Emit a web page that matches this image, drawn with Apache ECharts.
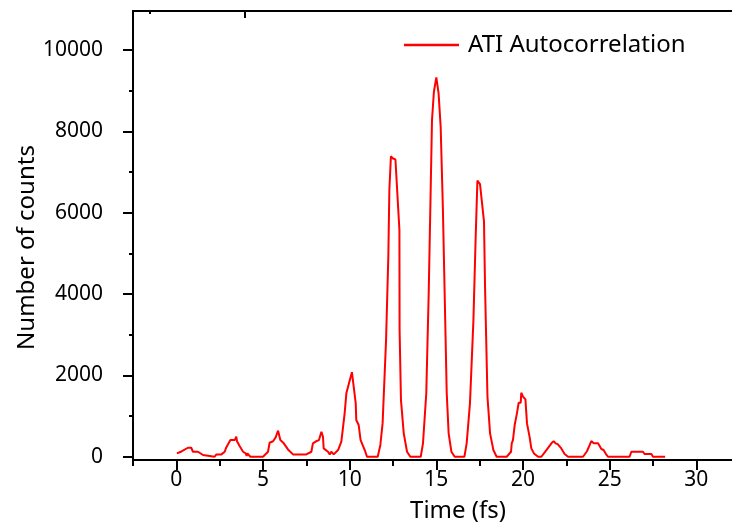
<!DOCTYPE html>
<html>
<head>
<meta charset="utf-8">
<script src="https://cdn.jsdelivr.net/npm/echarts@6/dist/echarts.min.js"></script>
<style>html,body{margin:0;padding:0;background:#fff}#c{width:732px;height:531px}</style>
</head>
<body>
<div id="c"></div>
<script>
var timeFs = [0.03,0.3,0.67,0.86,0.96,1.06,1.25,1.54,1.63,2.21,2.31,2.6,2.79,2.88,3.12,3.37,3.46,3.5,3.65,3.85,4.0,4.06,4.1,4.27,5.0,5.29,5.38,5.58,5.73,5.87,6.0,6.2,6.44,6.73,7.5,7.79,7.88,8.06,8.23,8.37,8.46,8.5,8.75,8.85,8.94,9.08,9.33,9.52,9.71,9.81,9.96,10.13,10.35,10.38,10.52,10.63,10.87,11.0,11.62,11.77,11.9,12.1,12.23,12.29,12.38,12.47,12.64,12.87,12.88,12.96,13.12,13.31,13.5,14.1,14.23,14.42,14.56,14.67,14.75,14.86,15.0,15.13,15.25,15.38,15.52,15.6,15.71,15.87,16.06,16.62,16.75,16.94,17.14,17.27,17.37,17.52,17.75,17.81,17.95,18.1,18.29,18.48,19.06,19.31,19.35,19.42,19.52,19.65,19.75,19.87,19.9,20.0,20.14,20.23,20.38,20.48,20.63,20.87,21.06,21.35,21.64,21.77,21.88,22.0,22.21,22.4,22.6,23.46,23.69,23.85,23.94,24.08,24.33,24.52,24.65,24.81,24.9,26.15,26.25,26.92,27.02,27.41,27.5,28.2];
var counts = [84,130,221,221,123,160,123,42,0,0,58,58,123,230,410,410,492,380,263,123,84,20,84,0,0,123,345,380,477,640,410,330,180,58,58,123,330,380,410,615,492,205,123,58,123,58,165,370,1067,1560,1805,2080,1313,902,780,410,165,0,0,290,820,2870,4920,6560,7390,7340,7310,5575,3115,1394,575,123,0,0,330,1560,4020,6480,8280,8975,9330,8935,8115,6065,3200,1560,575,123,0,0,330,1313,3360,5410,6790,6705,5780,4180,1475,575,165,0,0,123,330,410,780,1067,1328,1328,1575,1480,1410,820,490,205,82,0,0,165,330,385,330,310,205,66,0,0,135,290,385,330,330,190,165,50,0,0,123,123,66,66,0,0];
var xMajorTicks = [0,5,10,15,20,25,30];
var xMinorTicks = [-2.5,2.5,7.5,12.5,17.5,22.5,27.5,32.5];
var yMajorTicks = [0,2000,4000,6000,8000,10000];
var yMinorTicks = [1000,3000,5000,7000,9000];
var seriesName = 'ATI Autocorrelation';

var FONT = 'Noto Sans';
var black = '#000';
var chart = echarts.init(document.getElementById('c'), null, {renderer: 'canvas'});
var data = timeFs.map(function (t, i) { return [t, counts[i]]; });
function plain(v) { return String(v); }
function baseX(extra) {
  return Object.assign({
    type: 'value', min: -2.5, max: 35, gridIndex: 0,
    splitLine: {show: false},
    axisLine: {show: false, onZero: false, lineStyle: {color: black, width: 2}},
    axisTick: {show: false},
    axisLabel: {show: false}
  }, extra);
}
function baseY(extra) {
  return Object.assign({
    type: 'value', min: -80, max: 10960, gridIndex: 0,
    splitLine: {show: false},
    axisLine: {show: false, onZero: false, lineStyle: {color: black, width: 2}},
    axisTick: {show: false},
    axisLabel: {show: false}
  }, extra);
}
chart.setOption({
  animation: false,
  backgroundColor: '#fff',
  grid: {left: 133, top: 11, width: 650, height: 449, containLabel: false, outerBoundsMode: 'none'},
  legend: {
    data: [seriesName], left: 399, top: 28, itemWidth: 55, itemHeight: 14,
    icon: 'path://M0,6 L55,6 L55,8.5 L0,8.5 Z',
    itemStyle: {color: '#ff0000'},
    textStyle: {fontFamily: FONT, fontSize: 24, color: black, padding: [0, 0, 0, 4]}
  },
  xAxis: [
    baseX({
      position: 'bottom',
      name: 'Time (fs)', nameLocation: 'middle', nameGap: 39, nameMoveOverlap: false,
      nameTextStyle: {fontFamily: FONT, fontSize: 24, color: black},
      axisLine: {show: true, onZero: false, lineStyle: {color: black, width: 2}},
      axisTick: {show: true, customValues: xMajorTicks, length: 10, inside: false, lineStyle: {color: black, width: 2}},
      axisLabel: {show: true, customValues: xMajorTicks, formatter: plain, fontFamily: FONT, fontSize: 21, color: black, margin: 10}
    }),
    baseX({
      position: 'bottom',
      axisTick: {show: true, customValues: xMinorTicks, length: 6, inside: false, lineStyle: {color: black, width: 2}}
    }),
    baseX({
      position: 'top',
      axisLine: {show: true, onZero: false, lineStyle: {color: black, width: 2}},
      axisTick: {show: true, customValues: [-1.54], length: 3, inside: true, lineStyle: {color: black, width: 2}}
    }),
    baseX({
      position: 'top',
      axisTick: {show: true, customValues: [3.94], length: 7, inside: true, lineStyle: {color: black, width: 2}}
    })
  ],
  yAxis: [
    baseY({
      position: 'left',
      name: 'Number of counts', nameLocation: 'middle', nameGap: 94, nameMoveOverlap: false,
      nameTextStyle: {fontFamily: FONT, fontSize: 24, color: black, padding: [0, 24, 0, 0]},
      axisLine: {show: true, onZero: false, lineStyle: {color: black, width: 2}},
      axisTick: {show: true, customValues: yMajorTicks, length: 10, inside: false, lineStyle: {color: black, width: 2}},
      axisLabel: {show: true, customValues: yMajorTicks, formatter: plain, fontFamily: FONT, fontSize: 21, color: black, margin: 30}
    }),
    baseY({
      position: 'left',
      axisTick: {show: true, customValues: yMinorTicks, length: 4, inside: false, lineStyle: {color: black, width: 2}}
    })
  ],
  series: [{
    name: seriesName, type: 'line', xAxisIndex: 0, yAxisIndex: 0,
    data: data, showSymbol: false, symbol: 'none',
    lineStyle: {color: '#ff0000', width: 2},
    itemStyle: {color: '#ff0000'}
  }]
});
</script>
</body>
</html>
